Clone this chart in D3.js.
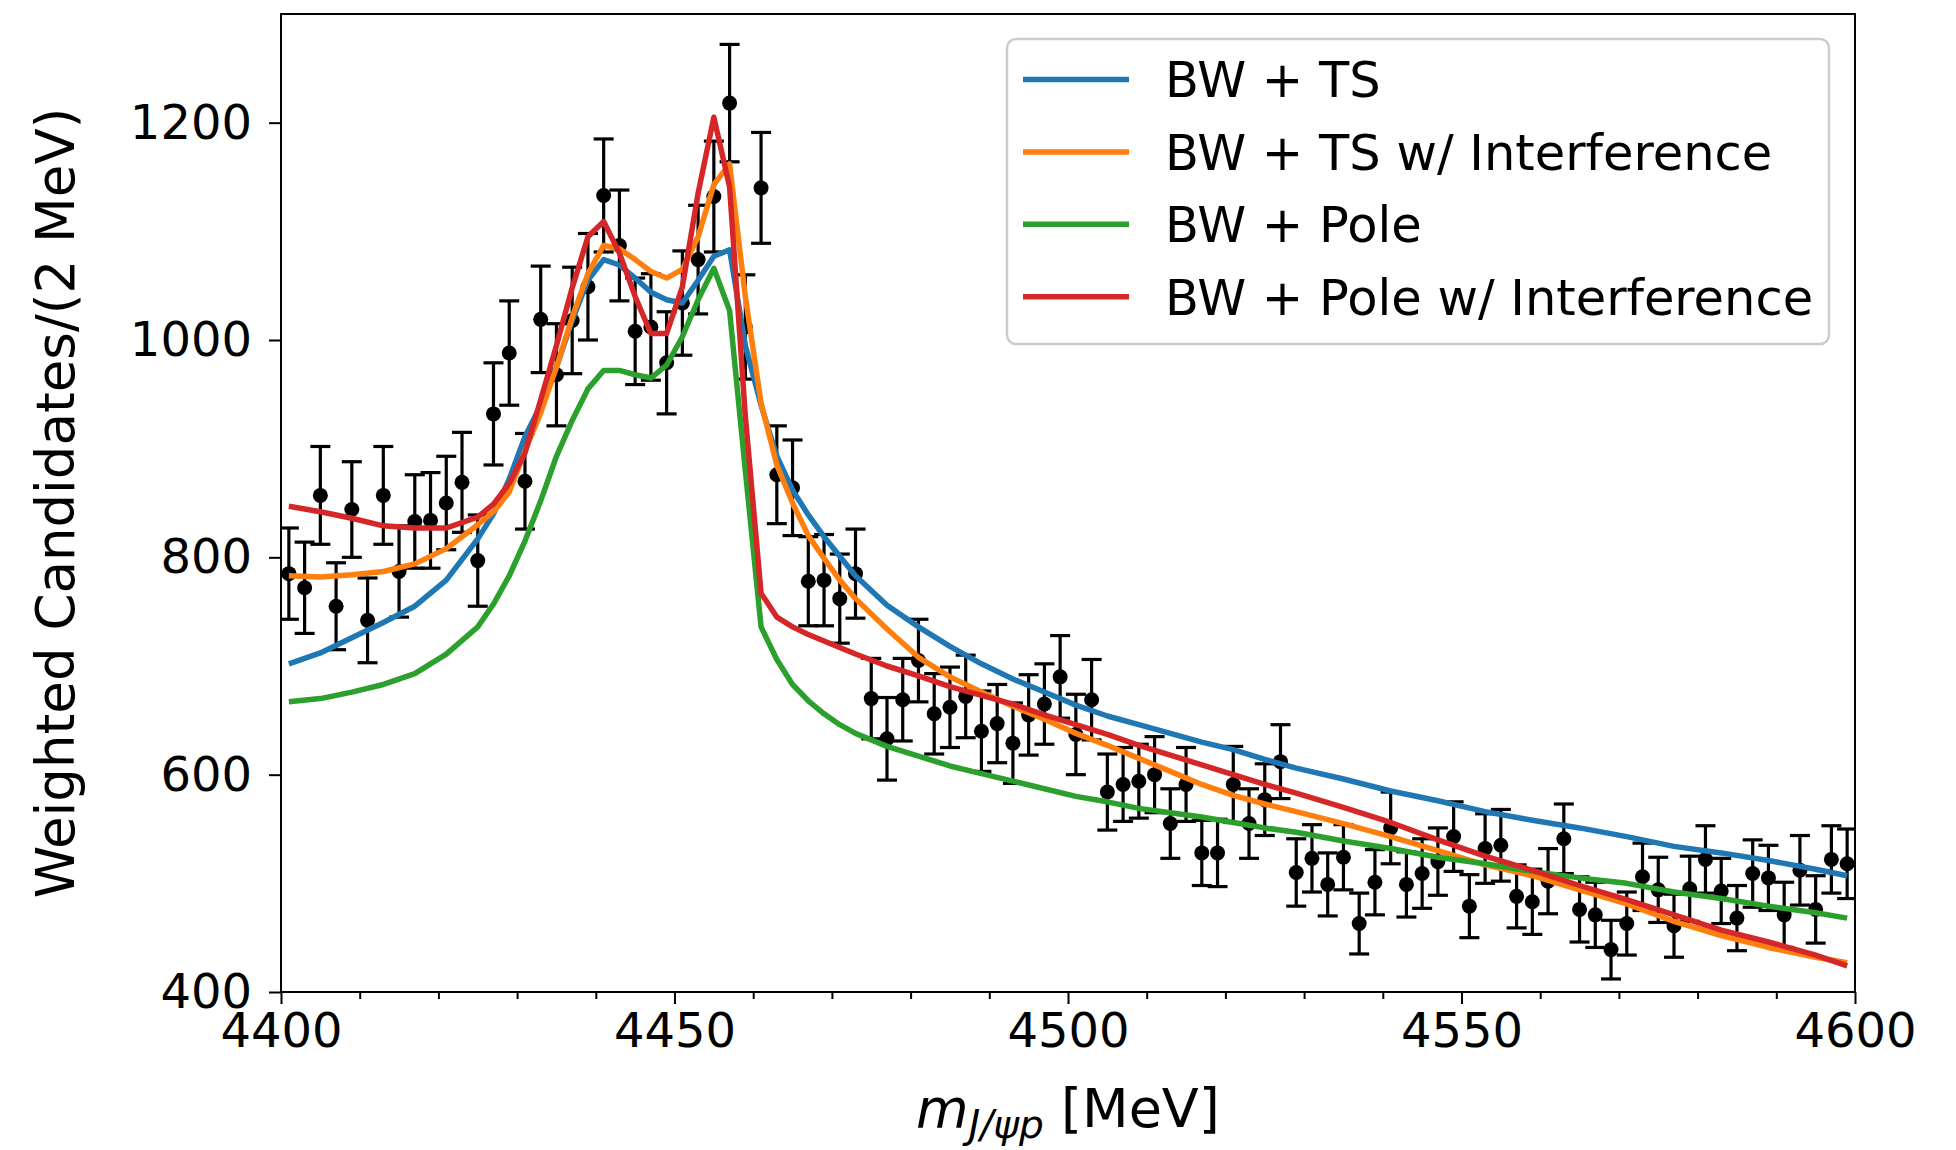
<!DOCTYPE html>
<html>
<head>
<meta charset="utf-8">
<script src="https://cdn.jsdelivr.net/npm/d3@7"></script>
<style>
  body { margin: 0; background: #fff; }
  svg text { font-family: "DejaVu Sans", sans-serif; fill: #000; }
</style>
</head>
<body>
<div id="chart"></div>
<script>
// data
const massBins = d3.range(4401, 4600, 2);
const counts = [
  785, 772, 857, 755, 844, 742, 857, 787, 833, 834,
  850, 869, 797, 932, 988, 870, 1019, 968, 1018, 1049,
  1133, 1087, 1008, 1012, 979, 1034, 1074, 1132, 1218, 1012,
  1140, 876, 864, 778, 779, 762, 785, 670, 633, 669,
  705, 656, 662, 672, 640, 647, 629, 655, 665, 690,
  637, 669, 584, 591, 594, 600, 555, 591, 528, 528,
  591, 555, 577, 612, 510, 523, 499, 524, 463, 501,
  551, 499, 509, 520, 543, 479, 532, 535, 488, 483,
  502, 541, 476, 471, 439, 463, 506, 494, 461, 495,
  522, 493, 468, 509, 505, 471, 512, 476, 522, 518
];
const errors = [
  42, 42, 45, 40, 44, 39, 45, 42, 43, 44,
  43, 46, 42, 47, 48, 44, 49, 47, 49, 49,
  52, 51, 49, 49, 47, 48, 50, 51, 54, 48,
  51, 45, 44, 41, 42, 41, 41, 37, 38, 38,
  38, 37, 37, 38, 37, 36, 37, 37, 37, 38,
  37, 37, 35, 34, 34, 35, 32, 34, 30, 31,
  35, 32, 33, 34, 31, 31, 29, 30, 28, 30,
  33, 30, 32, 31, 32, 29, 32, 33, 29, 30,
  30, 32, 30, 30, 27, 29, 31, 30, 29, 30,
  31, 30, 30, 31, 30, 30, 32, 31, 31, 32
];

const modelMass = [
  4401, 4405, 4409, 4413, 4417, 4421, 4425, 4427, 4429, 4431,
  4433, 4435, 4437, 4439, 4441, 4443, 4445, 4447, 4449, 4451,
  4453, 4455, 4457, 4459, 4461, 4463, 4465, 4467, 4469, 4471,
  4473, 4477, 4481, 4485, 4489, 4493, 4497, 4501, 4505, 4509,
  4513, 4517, 4521, 4525, 4529, 4535, 4541, 4547, 4553, 4559,
  4565, 4571, 4577, 4583, 4589, 4595, 4599
];
const bwTs = [
  702, 712, 726, 740, 755, 779, 817, 840, 872, 911,
  940, 975, 1018, 1055, 1074, 1069, 1057, 1044, 1037, 1034,
  1055, 1077, 1083, 995, 940, 893, 862, 839, 819, 801,
  783, 756, 736, 718, 702, 688, 676, 664, 654, 646,
  638, 630, 623, 614, 606, 596, 585, 576, 566, 558,
  551, 543, 534, 528, 521, 513, 507
];
const bwTsInt = [
  783, 782, 784, 787, 794, 808, 830, 842, 860, 898,
  933, 975, 1021, 1061, 1087, 1084, 1074, 1063, 1057, 1065,
  1095, 1143, 1162, 1040, 942, 885, 850, 820, 799, 779,
  762, 734, 708, 690, 676, 663, 651, 638, 627, 615,
  603, 591, 581, 573, 566, 555, 543, 530, 517, 507,
  494, 481, 465, 452, 441, 432, 427
];
const bwPole = [
  667, 670, 676, 683, 693, 711, 736, 757, 783, 815,
  852, 893, 926, 955, 972, 972, 968, 965, 977, 1003,
  1037, 1066, 1027, 880, 736, 706, 683, 668, 656, 646,
  638, 626, 617, 608, 601, 594, 587, 580, 575, 569,
  565, 561, 556, 551, 547, 539, 532, 524, 518, 511,
  505, 500, 492, 486, 479, 473, 468
];
const bwPoleInt = [
  847, 842, 836, 829, 827, 827, 837, 849, 868, 896,
  945, 995, 1048, 1095, 1109, 1080, 1040, 1006, 1006, 1049,
  1135, 1205, 1141, 930, 767, 745, 736, 729, 723, 717,
  711, 700, 691, 681, 673, 665, 655, 646, 637, 627,
  618, 609, 600, 591, 583, 570, 556, 540, 525, 512,
  498, 485, 471, 457, 446, 434, 424
];

const seriesNames = ["BW + TS", "BW + TS w/ Interference", "BW + Pole", "BW + Pole w/ Interference"];
const seriesColors = ["#1f77b4", "#ff7f0e", "#2ca02c", "#d62728"];
const seriesValues = [bwTs, bwTsInt, bwPole, bwPoleInt];

const xTicks = [4400, 4450, 4500, 4550, 4600];
const xMinorTicks = d3.range(4400, 4601, 10);
const yTicks = [400, 600, 800, 1000, 1200];

// layout
const W = 1956, H = 1150;
const plotLeft = 281, plotRight = 1855, plotTop = 14, plotBottom = 992;

const svg = d3.select("#chart").append("svg")
  .attr("width", W)
  .attr("height", H);

const x = d3.scaleLinear().domain([4400, 4600]).range([plotLeft, plotRight]);
const y = d3.scaleLinear().domain([400, 1300]).range([plotBottom, plotTop]);

svg.append("defs").append("clipPath").attr("id", "plot-clip")
  .append("rect")
  .attr("x", plotLeft).attr("y", plotTop)
  .attr("width", plotRight - plotLeft).attr("height", plotBottom - plotTop);

const plot = svg.append("g").attr("clip-path", "url(#plot-clip)");

// data points with error bars
const pts = massBins.map((m, i) => ({ m: m, v: counts[i], e: errors[i] }));
const bars = plot.append("g").attr("stroke", "#000").attr("stroke-width", 3.2);
bars.selectAll(".ebar").data(pts).enter().append("line")
  .attr("x1", d => x(d.m)).attr("x2", d => x(d.m))
  .attr("y1", d => y(d.v - d.e)).attr("y2", d => y(d.v + d.e));
bars.selectAll(".cap-hi").data(pts).enter().append("line")
  .attr("x1", d => x(d.m) - 10).attr("x2", d => x(d.m) + 10)
  .attr("y1", d => y(d.v + d.e)).attr("y2", d => y(d.v + d.e));
bars.selectAll(".cap-lo").data(pts).enter().append("line")
  .attr("x1", d => x(d.m) - 10).attr("x2", d => x(d.m) + 10)
  .attr("y1", d => y(d.v - d.e)).attr("y2", d => y(d.v - d.e));
plot.append("g").selectAll("circle").data(pts).enter().append("circle")
  .attr("cx", d => x(d.m))
  .attr("cy", d => y(d.v))
  .attr("r", 7.5)
  .attr("fill", "#000");

// fit curves
const line = d3.line().x(d => x(d[0])).y(d => y(d[1]));
seriesValues.forEach((vals, k) => {
  plot.append("path")
    .datum(modelMass.map((m, i) => [m, vals[i]]))
    .attr("d", line)
    .attr("fill", "none")
    .attr("stroke", seriesColors[k])
    .attr("stroke-width", 5.5)
    .attr("stroke-linejoin", "round");
});

// axes
svg.append("g")
  .attr("transform", `translate(0,${plotBottom})`)
  .call(d3.axisBottom(x).tickValues(xTicks).tickSize(12).tickPadding(9).tickFormat(d3.format("d")));
svg.append("g")
  .attr("transform", `translate(0,${plotBottom})`)
  .call(d3.axisBottom(x).tickValues(xMinorTicks.filter(t => !xTicks.includes(t))).tickSize(7).tickFormat(""));
svg.append("g")
  .attr("transform", `translate(${plotLeft},0)`)
  .call(d3.axisLeft(y).tickValues(yTicks).tickSize(12).tickPadding(17).tickFormat(d3.format("d")));

svg.selectAll(".tick line").attr("stroke", "#000").attr("stroke-width", 2);
svg.selectAll(".domain").remove();
svg.selectAll(".tick text").style("font-size", "48px");

svg.append("rect")
  .attr("x", plotLeft).attr("y", plotTop)
  .attr("width", plotRight - plotLeft).attr("height", plotBottom - plotTop)
  .attr("fill", "none").attr("stroke", "#000").attr("stroke-width", 2);

// axis labels
const xl = svg.append("text")
  .attr("x", (plotLeft + plotRight) / 2).attr("y", 1127)
  .attr("text-anchor", "middle")
  .style("font-size", "54px");
xl.append("tspan").text("m").style("font-style", "italic");
xl.append("tspan").text("J/ψp").style("font-style", "italic").style("font-size", "39px").attr("dy", 11);
xl.append("tspan").text(" [MeV]").attr("dy", -11);

svg.append("text")
  .attr("transform", `translate(74,${(plotTop + plotBottom) / 2}) rotate(-90)`)
  .attr("text-anchor", "middle")
  .style("font-size", "53px")
  .text("Weighted Candidates/(2 MeV)");

// legend
const lg = svg.append("g");
lg.append("rect")
  .attr("x", 1007).attr("y", 39)
  .attr("width", 822).attr("height", 305)
  .attr("rx", 9)
  .attr("fill", "#fff").attr("fill-opacity", 0.8)
  .attr("stroke", "#cccccc").attr("stroke-width", 2.5);
seriesNames.forEach((name, k) => {
  const ly = 79.5 + k * 72.4;
  lg.append("line")
    .attr("x1", 1023).attr("x2", 1129)
    .attr("y1", ly).attr("y2", ly)
    .attr("stroke", seriesColors[k]).attr("stroke-width", 5.5);
  lg.append("text")
    .attr("x", 1165).attr("y", ly)
    .attr("dy", "0.36em")
    .style("font-size", "49.5px")
    .text(name);
});
</script>
</body>
</html>
